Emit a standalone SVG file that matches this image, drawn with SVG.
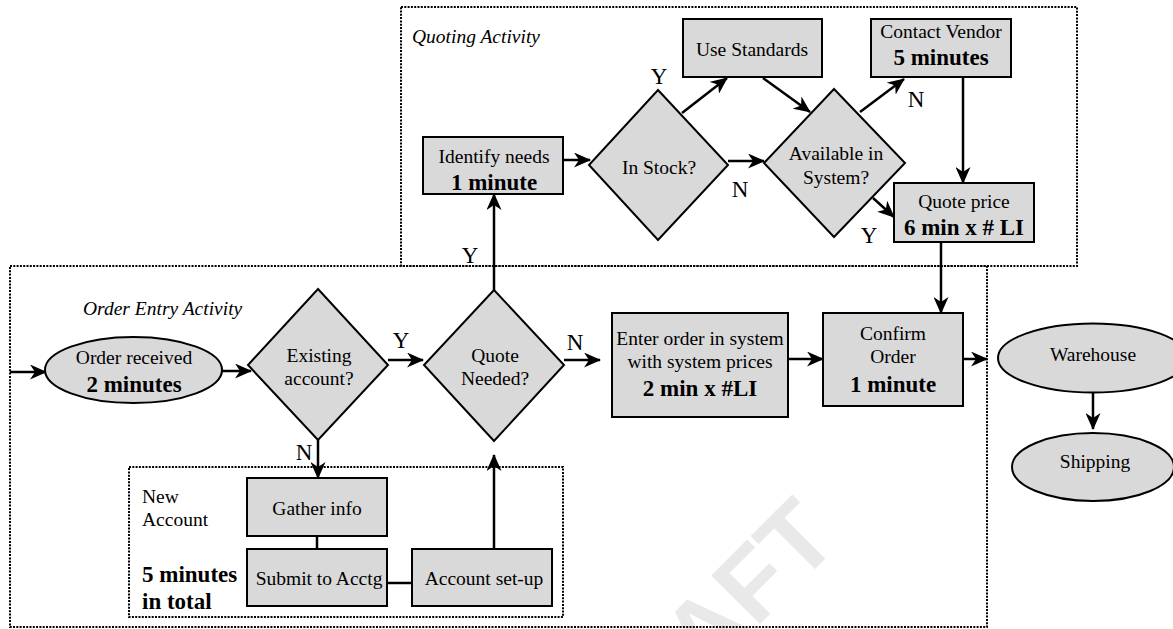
<svg xmlns="http://www.w3.org/2000/svg" width="1173" height="629" viewBox="0 0 1173 629">
<defs>
<marker id="ah" viewBox="0 0 17 15" refX="16" refY="7.5" markerWidth="17" markerHeight="15" markerUnits="userSpaceOnUse" orient="auto">
<path d="M0,0 L17,7.5 L0,15 L5,7.5 z" fill="#000"/>
</marker>
<style>
.shape{fill:#d9d9d9;stroke:#000;stroke-width:2}
.zone{fill:none;stroke:#000;stroke-width:2;stroke-dasharray:2 1.3}
.t{font-family:"Liberation Serif","Times New Roman",serif;font-size:19.5px;fill:#000;text-anchor:middle}
.b{font-family:"Liberation Serif","Times New Roman",serif;font-size:23px;font-weight:bold;fill:#000;text-anchor:middle}
.l{font-family:"Liberation Serif","Times New Roman",serif;font-size:23px;fill:#000;text-anchor:middle}
.title{font-family:"Liberation Serif","Times New Roman",serif;font-size:19.5px;font-style:italic;fill:#000}
.left{text-anchor:start}
.c{fill:none;stroke:#000;stroke-width:2.5}
.a{marker-end:url(#ah)}
.wm{font-family:"Liberation Sans",Arial,sans-serif;font-size:100px;font-weight:bold;fill:#e9e9e9}
</style>
</defs>
<rect width="1173" height="629" fill="#fff"/>
<text class="wm" transform="translate(602,782) rotate(-45)">DRAFT</text>

<g id="zones">
<rect class="zone" x="401" y="7" width="676" height="259"/>
<rect class="zone" x="10" y="266" width="977" height="361"/>
<rect class="zone" x="129" y="467" width="434" height="150"/>
<text class="title left" x="412" y="43">Quoting Activity</text>
<text class="title left" x="83" y="315">Order Entry Activity</text>
</g>

<g id="connectors">
<line class="c a" x1="10" y1="372" x2="46" y2="372"/>
<line class="c a" x1="222" y1="371" x2="251" y2="371"/>
<line class="c a" x1="388" y1="360" x2="423" y2="360"/>
<line class="c a" x1="564" y1="360" x2="600" y2="360"/>
<line class="c a" x1="788" y1="359" x2="823" y2="359"/>
<line class="c a" x1="963" y1="359" x2="987" y2="359"/>
<line class="c a" x1="1093" y1="393" x2="1093" y2="429"/>
<line class="c a" x1="318" y1="440" x2="318" y2="478"/>
<line class="c" x1="317" y1="536" x2="317" y2="549"/>
<line class="c" x1="387" y1="583" x2="412" y2="583"/>
<line class="c a" x1="494" y1="549" x2="494" y2="455"/>
<line class="c a" x1="494" y1="290" x2="494" y2="194"/>
<line class="c a" x1="563" y1="160" x2="590" y2="160"/>
<line class="c a" x1="682" y1="113" x2="727" y2="78"/>
<line class="c a" x1="763" y1="78" x2="810" y2="112"/>
<line class="c a" x1="728" y1="161" x2="764" y2="161"/>
<line class="c a" x1="860" y1="112" x2="904" y2="79"/>
<line class="c a" x1="963" y1="77" x2="963" y2="183"/>
<line class="c a" x1="873" y1="198" x2="894" y2="217"/>
<line class="c a" x1="941" y1="242" x2="941" y2="313"/>
<text class="l" x="401" y="348">Y</text>
<text class="l" x="575" y="350">N</text>
<text class="l" x="304" y="460">N</text>
<text class="l" x="470" y="263">Y</text>
<text class="l" x="659" y="84">Y</text>
<text class="l" x="740" y="197">N</text>
<text class="l" x="916" y="107">N</text>
<text class="l" x="869" y="243">Y</text>
</g>

<g id="order-received">
<ellipse class="shape" cx="133.5" cy="370" rx="88.5" ry="33"/>
<text class="t" x="134" y="364">Order received</text>
<text class="b" x="134" y="392">2 minutes</text>
</g>
<g id="existing-account">
<polygon class="shape" points="318,289 388,365 318,440 248,365"/>
<text class="t" x="319" y="362">Existing</text>
<text class="t" x="319" y="385">account?</text>
</g>
<g id="quote-needed">
<polygon class="shape" points="494,290 564,365 494,441 424,365"/>
<text class="t" x="495" y="362">Quote</text>
<text class="t" x="495" y="385">Needed?</text>
</g>
<g id="enter-order">
<rect class="shape" x="612" y="313" width="176" height="104"/>
<text class="t" x="700" y="345">Enter order in system</text>
<text class="t" x="700" y="368">with system prices</text>
<text class="b" x="700" y="396">2 min x #LI</text>
</g>
<g id="confirm-order">
<rect class="shape" x="823" y="313" width="140" height="93"/>
<text class="t" x="893" y="340">Confirm</text>
<text class="t" x="893" y="363">Order</text>
<text class="b" x="893" y="392">1 minute</text>
</g>
<g id="warehouse">
<ellipse class="shape" cx="1093" cy="358" rx="95" ry="34.5"/>
<text class="t" x="1093" y="361">Warehouse</text>
</g>
<g id="shipping">
<ellipse class="shape" cx="1093" cy="467" rx="81" ry="34"/>
<text class="t" x="1095" y="468">Shipping</text>
</g>
<g id="new-account">
<text class="t left" x="142" y="503">New</text>
<text class="t left" x="142" y="526">Account</text>
<text class="b left" x="142" y="582">5 minutes</text>
<text class="b left" x="142" y="609">in total</text>
</g>
<g id="gather-info">
<rect class="shape" x="247" y="478" width="140" height="58"/>
<text class="t" x="317" y="515">Gather info</text>
</g>
<g id="submit-acctg">
<rect class="shape" x="247" y="549" width="140" height="57"/>
<text class="t" x="319" y="585">Submit to Acctg</text>
</g>
<g id="account-setup">
<rect class="shape" x="412" y="549" width="140" height="57"/>
<text class="t" x="484" y="585">Account set-up</text>
</g>
<g id="identify-needs">
<rect class="shape" x="423" y="137" width="140" height="57"/>
<text class="t" x="494" y="163">Identify needs</text>
<text class="b" x="494" y="190">1 minute</text>
</g>
<g id="in-stock">
<polygon class="shape" points="658,90 728,165 658,240 589,165"/>
<text class="t" x="659" y="174">In Stock?</text>
</g>
<g id="use-standards">
<rect class="shape" x="683" y="19" width="139" height="58"/>
<text class="t" x="752" y="56">Use Standards</text>
</g>
<g id="available">
<polygon class="shape" points="834,89 905,163 834,237 764,163"/>
<text class="t" x="836" y="160">Available in</text>
<text class="t" x="836" y="184">System?</text>
</g>
<g id="contact-vendor">
<rect class="shape" x="871" y="19" width="140" height="58"/>
<text class="t" x="941" y="38">Contact Vendor</text>
<text class="b" x="941" y="65">5 minutes</text>
</g>
<g id="quote-price">
<rect class="shape" x="894" y="183" width="140" height="59"/>
<text class="t" x="964" y="208">Quote price</text>
<text class="b" x="964" y="235">6 min x # LI</text>
</g>
</svg>
